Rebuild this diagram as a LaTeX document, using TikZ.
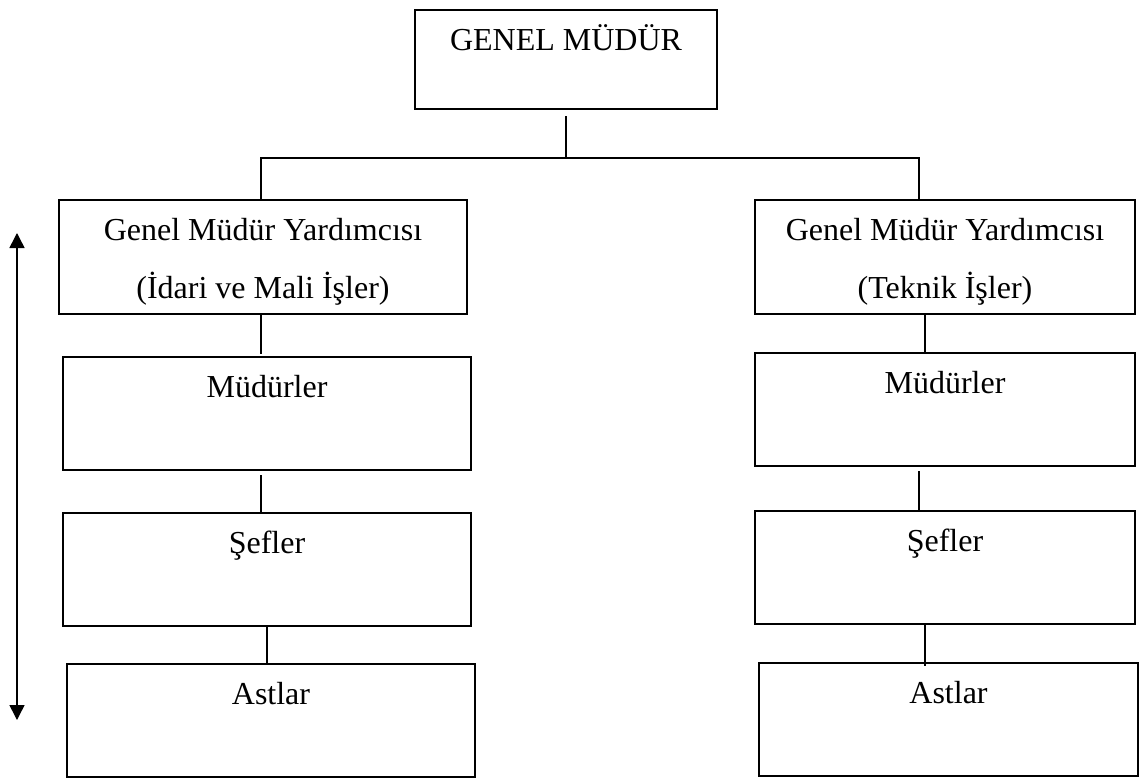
\documentclass[tikz,border=0pt]{standalone}
\usepackage{fontspec}
\setmainfont{Liberation Serif}
\usetikzlibrary{arrows.meta}
\newcommand{\twolines}[2]{\begin{tabular}[t]{@{}c@{}}#1\\#2\end{tabular}}
\begin{document}
\begin{tikzpicture}[x=1pt,y=-1pt,
  box/.style={draw, line width=1.6pt, inner sep=0pt, outer sep=0pt, anchor=north west,
    font=\fontsize{32}{58}\selectfont, text height=40pt, align=center},
  link/.style={line width=1.5pt}]
\useasboundingbox (0,0) rectangle (1139,779);
% boxes
\node[box, minimum width=302pt, minimum height=99pt, text depth=59pt] (gm) at (415,10) {GENEL MÜDÜR};
\node[box, minimum width=408pt, minimum height=114pt, text depth=74pt] (gmyL) at (59,200)
  {\twolines{Genel Müdür Yardımcısı}{(İdari ve Mali İşler)}};
\node[box, minimum width=380pt, minimum height=114pt, text depth=74pt] (gmyR) at (755,200)
  {\twolines{Genel Müdür Yardımcısı}{(Teknik İşler)}};
\node[box, minimum width=408pt, minimum height=113pt, text depth=73pt] (mudL) at (63,357) {Müdürler};
\node[box, minimum width=380pt, minimum height=113pt, text depth=73pt] (mudR) at (755,353) {Müdürler};
\node[box, minimum width=408pt, minimum height=113pt, text depth=73pt] (sefL) at (63,513) {Şefler};
\node[box, minimum width=380pt, minimum height=113pt, text depth=73pt] (sefR) at (755,511) {Şefler};
\node[box, minimum width=408pt, minimum height=113pt, text depth=73pt] (astL) at (67,664) {Astlar};
\node[box, minimum width=379pt, minimum height=113pt, text depth=73pt] (astR) at (759,663) {Astlar};
% connectors
\coordinate (bus) at (566,158);
\draw[link] ([yshift=-7pt]gm.south) -- (gm.south |- bus);
\draw[link] ([xshift=-2pt]gmyL.north) -- ([xshift=-2pt]gmyL.north |- bus) -| ([xshift=-26pt]gmyR.north);
\draw[link] ([xshift=-2pt]gmyL.south) -- ([xshift=-2pt,yshift=3pt]gmyL.south |- mudL.north);
\draw[link] ([xshift=-6pt,yshift=-5pt]mudL.south) -- ([xshift=-6pt]mudL.south |- sefL.north);
\draw[link] (sefL.south) -- (sefL.south |- astL.north);
\draw[link] ([xshift=-20pt]gmyR.south) -- ([xshift=-20pt]gmyR.south |- mudR.north);
\draw[link] ([xshift=-26pt,yshift=-5pt]mudR.south) -- ([xshift=-26pt]mudR.south |- sefR.north);
\draw[link] ([xshift=-20pt]sefR.south) -- ([xshift=-20pt,yshift=-3pt]sefR.south |- astR.north);
% side arrow
\coordinate (aT) at (17,233);
\coordinate (aB) at (17,720);
\draw[link, {Triangle[length=15pt,width=15pt]}-{Triangle[length=15pt,width=15pt]}] (aT) -- (aB);
\end{tikzpicture}
\end{document}
